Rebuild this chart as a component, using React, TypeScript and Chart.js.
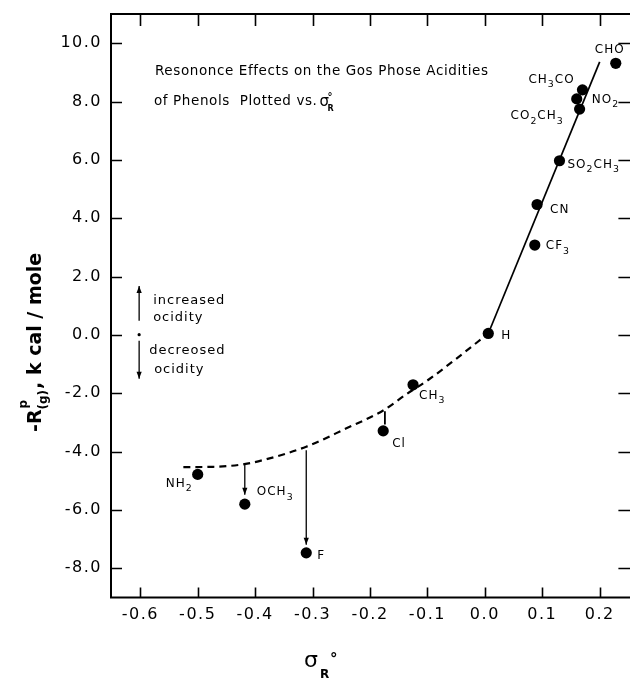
import React, { useEffect, useRef } from 'react';
import { Chart, registerables } from 'chart.js';
Chart.register(...registerables);

const FONT = '"DejaVu Sans", sans-serif';

// axis ticks
const xTickValues = [-0.6, -0.5, -0.4, -0.3, -0.2, -0.1, 0.0, 0.1, 0.2];
const yTickValues = [-8, -6, -4, -2, 0, 2, 4, 6, 8, 10];

// substituent points
const substituents = ['CHO', 'CH3CO', 'NO2', 'CO2CH3', 'SO2CH3', 'CN', 'CF3', 'H', 'CH3', 'Cl', 'NH2', 'OCH3', 'F'];
const sigmaR = [0.228, 0.170, 0.160, 0.165, 0.130, 0.091, 0.087, 0.006, -0.125, -0.177, -0.500, -0.418, -0.311];
const minusR = [9.31, 8.40, 8.09, 7.74, 5.97, 4.47, 3.08, 0.05, -1.71, -3.29, -4.78, -5.80, -7.47];
// label text offset (px) from its point: [dx, dy]
const labelOffsets: [number, number][] = [
  [-21, -13], [-54, -10], [15, 1], [-69, 7], [8, 4], [13, 5], [11, 1], [13, 2], [6, 11], [9, 13], [-32, 9], [12, -12], [11, 3],
];

// dashed curve
const curveX = [-0.525, -0.473, -0.419, -0.386, -0.311, -0.242, -0.177, -0.138, -0.097, -0.05, 0.006];
const curveY = [-4.53, -4.52, -4.43, -4.29, -3.83, -3.21, -2.59, -2.05, -1.52, -0.82, 0.05];

// solid line
const fitX = [0.006, 0.2];
const fitY = [0.05, 9.36];

// vertical drop lines
const dropOCH3X = [-0.418, -0.418];
const dropOCH3Y = [-4.43, -5.48];
const dropFX = [-0.311, -0.311];
const dropFY = [-3.95, -7.19];
const dropClX = [-0.174, -0.174];
const dropClY = [-2.62, -3.07];

// acidity key arrows
const keyX = -0.602;
const keyUpY = [0.49, 1.68];
const keyDownY = [-0.2, -1.5];
const keyDotY = 0.01;

const pts = (xs: number[], ys: number[]) => xs.map((x, i) => ({ x, y: ys[i] }));

function drawChem(ctx: CanvasRenderingContext2D, text: string, x: number, y: number, size: number, spacing: number) {
  let cx = x;
  for (const ch of text) {
    const isSub = /[0-9]/.test(ch);
    const s = isSub ? size * 0.78 : size;
    ctx.font = `${s}px ${FONT}`;
    ctx.letterSpacing = `${spacing}px`;
    ctx.fillText(ch, cx, isSub ? y + size * 0.42 : y);
    cx += ctx.measureText(ch).width;
  }
  return cx - x;
}

const decorPlugin = {
  id: 'decor',
  beforeDraw(chart: any) {
    chart.ctx.letterSpacing = '1.5px';
  },
  afterDatasetsDraw(chart: any) {
    const { ctx, chartArea: a, scales } = chart;
    const xs = scales.x, ys = scales.y;
    ctx.save();
    ctx.letterSpacing = '0px';
    ctx.strokeStyle = '#000';
    ctx.fillStyle = '#000';
    // frame (right side lies just beyond the picture)
    ctx.lineWidth = 2;
    ctx.beginPath();
    ctx.moveTo(a.right + 5, a.top);
    ctx.lineTo(a.left, a.top);
    ctx.lineTo(a.left, a.bottom);
    ctx.lineTo(a.right + 5, a.bottom);
    ctx.stroke();
    // inward ticks
    ctx.lineWidth = 1.6;
    ctx.beginPath();
    for (const t of xs.ticks) {
      const px = Math.round(xs.getPixelForValue(t.value)) + 0.5;
      ctx.moveTo(px, a.bottom); ctx.lineTo(px, a.bottom - 10);
      ctx.moveTo(px, a.top); ctx.lineTo(px, a.top + 12);
    }
    for (const t of ys.ticks) {
      const py = Math.round(ys.getPixelForValue(t.value)) + 0.5;
      ctx.moveTo(a.left, py); ctx.lineTo(a.left + 11, py);
      ctx.moveTo(a.right + 2, py); ctx.lineTo(a.right - 10, py);
    }
    ctx.stroke();

    // arrowheads
    chart.data.datasets.forEach((ds: any, i: number) => {
      if (!ds.arrowHead) return;
      const d = chart.getDatasetMeta(i).data;
      const p1 = d[d.length - 2], p2 = d[d.length - 1];
      const ang = Math.atan2(p2.y - p1.y, p2.x - p1.x);
      const L = 7, W = 2.6;
      ctx.beginPath();
      ctx.moveTo(p2.x, p2.y);
      ctx.lineTo(p2.x - L * Math.cos(ang) + W * Math.sin(ang), p2.y - L * Math.sin(ang) - W * Math.cos(ang));
      ctx.lineTo(p2.x - L * Math.cos(ang) - W * Math.sin(ang), p2.y - L * Math.sin(ang) + W * Math.cos(ang));
      ctx.closePath();
      ctx.fill();
    });

    // point labels
    ctx.textBaseline = 'middle';
    ctx.textAlign = 'left';
    substituents.forEach((s, i) => {
      const px = xs.getPixelForValue(sigmaR[i]);
      const py = ys.getPixelForValue(minusR[i]);
      drawChem(ctx, s, px + labelOffsets[i][0], py + labelOffsets[i][1], 12, 1);
    });

    // key text
    const kx = xs.getPixelForValue(keyX);
    ctx.font = `13px ${FONT}`;
    ctx.letterSpacing = '1px';
    ctx.fillText('increased', kx + 14, ys.getPixelForValue(1.17));
    ctx.fillText('ocidity', kx + 14, ys.getPixelForValue(0.61));
    ctx.fillText('decreosed', kx + 10, ys.getPixelForValue(-0.54));
    ctx.fillText('ocidity', kx + 15, ys.getPixelForValue(-1.18));

    // inset title
    ctx.font = `13.5px ${FONT}`;
    ctx.letterSpacing = '0.6px';
    ctx.fillText('Resononce Effects on the Gos Phose Acidities', 155, 71);
    const t2 = 'of Phenols  Plotted vs.';
    ctx.fillText(t2, 154, 101);
    const w2 = ctx.measureText(t2).width;
    ctx.letterSpacing = '0px';
    ctx.font = `15px ${FONT}`;
    ctx.fillText('σ', 154 + w2 + 2, 102);
    ctx.font = `bold 8px ${FONT}`;
    ctx.fillText('R', 154 + w2 + 10, 109);
    ctx.font = `bold 10px ${FONT}`;
    ctx.fillText('°', 154 + w2 + 10, 97);
    ctx.restore();

    // axis titles
    ctx.save();
    ctx.fillStyle = '#000';
    ctx.textBaseline = 'alphabetic';
    ctx.textAlign = 'left';
    ctx.letterSpacing = '0px';
    // x title
    ctx.font = `22px ${FONT}`;
    ctx.fillText('σ', 304, 667);
    ctx.font = `bold 12px ${FONT}`;
    ctx.fillText('R', 320, 678);
    ctx.font = `bold 15px ${FONT}`;
    ctx.fillText('°', 330, 664);
    // y title (rotated)
    ctx.translate(41, 432);
    ctx.rotate(-Math.PI / 2);
    ctx.font = `bold 19px ${FONT}`;
    ctx.fillText('-R', 0, 0);
    const wR = ctx.measureText('-R').width;
    ctx.font = `bold 12px ${FONT}`;
    ctx.fillText('p', wR + 1, -14);
    ctx.fillText('(g)', wR, 6);
    const wg = ctx.measureText('(g)').width;
    ctx.font = `bold 19px ${FONT}`;
    ctx.fillText(', k cal / mole', wR + wg + 1, 0);
    ctx.restore();
  },
};

export default function App() {
  const ref = useRef<HTMLCanvasElement | null>(null);
  useEffect(() => {
    if (!ref.current) return;
    const lineDs = (xs: number[], ys: number[], extra: any = {}) => ({
      data: pts(xs, ys), showLine: true, borderColor: '#000', backgroundColor: '#000',
      borderWidth: 1.3, pointRadius: 0, fill: false, ...extra,
    });
    const chart = new Chart(ref.current, {
      type: 'scatter',
      data: {
        datasets: [
          lineDs(curveX, curveY, { borderWidth: 2.2, borderDash: [7, 5], cubicInterpolationMode: 'monotone' }),
          lineDs(fitX, fitY, { borderWidth: 1.7 }),
          lineDs(dropOCH3X, dropOCH3Y, { arrowHead: true }),
          lineDs(dropFX, dropFY, { arrowHead: true }),
          lineDs(dropClX, dropClY, { borderWidth: 1.8 }),
          lineDs([keyX, keyX], keyUpY, { arrowHead: true }),
          lineDs([keyX, keyX], keyDownY, { arrowHead: true }),
          { data: [{ x: keyX, y: keyDotY }], backgroundColor: '#000', borderWidth: 0, pointRadius: 1.6 },
          { data: pts(sigmaR, minusR), backgroundColor: '#000', borderColor: '#000', borderWidth: 0, pointRadius: 5.6 },
        ] as any,
      },
      options: {
        animation: false,
        responsive: false,
        devicePixelRatio: 1,
        layout: { padding: { top: 14, right: 0, left: 0, bottom: 0 } },
        plugins: { legend: { display: false }, tooltip: { enabled: false } },
        scales: {
          x: {
            type: 'linear', min: -0.651, max: 0.25,
            grid: { display: false, drawTicks: false }, border: { display: false },
            afterFit: (s: any) => { s.height = 81.5; s.paddingLeft = 0; s.paddingRight = 0; },
            afterBuildTicks: (s: any) => { s.ticks = xTickValues.map((v) => ({ value: v })); },
            ticks: { padding: 8, color: '#000', font: { family: FONT, size: 16 }, callback: (v: any) => Number(v).toFixed(1) },
          },
          y: {
            type: 'linear', min: -9, max: 11,
            grid: { display: false, drawTicks: false }, border: { display: false },
            afterFit: (s: any) => { s.width = 111; s.paddingTop = 0; s.paddingBottom = 0; },
            afterBuildTicks: (s: any) => { s.ticks = yTickValues.map((v) => ({ value: v })); },
            ticks: { padding: 9, color: '#000', font: { family: FONT, size: 16 }, callback: (v: any) => Number(v).toFixed(1) },
          },
        },
      },
      plugins: [decorPlugin],
    } as any);
    return () => chart.destroy();
  }, []);
  return (
    <div style={{ position: 'fixed', left: 0, top: 0, width: 630, height: 679, overflow: 'hidden', background: '#fff' }}>
      <canvas ref={ref} width={634} height={679} style={{ display: 'block' }} />
    </div>
  );
}
